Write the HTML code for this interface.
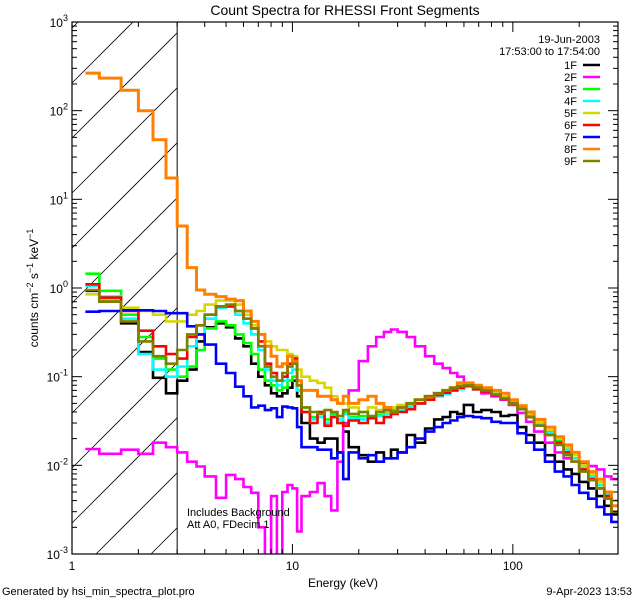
<!DOCTYPE html>
<html><head><meta charset="utf-8"><style>
html,body{margin:0;padding:0;background:#fff;width:640px;height:600px;overflow:hidden}
svg{display:block}
svg text{font-family:"Liberation Sans",sans-serif;fill:#000}
</style></head><body>
<svg id="chart" width="640" height="600" xmlns="http://www.w3.org/2000/svg">
<rect width="640" height="600" fill="#fff"/>
<text x="345" y="15" font-size="14" text-anchor="middle">Count Spectra for RHESSI Front Segments</text>
<g id="plot"></g>
<text transform="translate(38,288) rotate(-90)" font-size="12" text-anchor="middle">counts cm<tspan dy="-5" font-size="9">−2</tspan><tspan dy="5"> s</tspan><tspan dy="-5" font-size="9">−1</tspan><tspan dy="5"> keV</tspan><tspan dy="-5" font-size="9">−1</tspan></text>
<text x="343" y="587" font-size="12" text-anchor="middle">Energy (keV)</text>
<text x="2" y="595" font-size="11">Generated by hsi_min_spectra_plot.pro</text>
<text x="632" y="595" font-size="11" text-anchor="end">9-Apr-2023 13:53</text>
<text x="187" y="516" font-size="11">Includes Background</text>
<text x="187" y="528" font-size="11">Att A0, FDecim 1</text>
<text x="600" y="43" font-size="11" text-anchor="end">19-Jun-2003</text>
<text x="600" y="55" font-size="11" text-anchor="end">17:53:00 to 17:54:00</text>
</svg>
<script>
const edges=[1.15,1.33,1.67,2,2.33,2.67,3,3.33,3.67,4,4.5,5,5.5,6,6.5,7,7.5,8,8.5,9,9.5,10,10.5,11,12,13,14,15,16,17,18,20,22,24,26,28,30,33,36,40,44,48,52,56,60,66,72,80,88,96,105,115,125,140,155,170,185,200,220,240,260,280,300];
const seriesNames=["1F","2F","3F","4F","5F","6F","7F","8F","9F"];
const seriesColors=["#000000","#ff00ff","#00ff00","#00ffff","#d7d700","#ff0000","#0000ff","#ff8000","#808000"];
const s1=[0.93,0.73,0.4,0.19,0.097,0.065,0.09,0.12,0.25,0.36,0.4,0.36,0.27,0.22,0.14,0.1,0.08,0.065,0.06,0.065,0.075,0.09,0.06,0.03,0.02,0.018,0.02,0.02,0.014,0.024,0.016,0.013,0.011,0.014,0.012,0.015,0.014,0.022,0.018,0.026,0.033,0.035,0.04,0.038,0.048,0.04,0.042,0.04,0.036,0.037,0.027,0.022,0.018,0.013,0.011,0.009,0.008,0.0065,0.0055,0.0045,0.0035,0.0028];
const s2=[0.0153,0.0135,0.015,0.0135,0.018,0.016,0.014,0.011,0.0097,0.0075,0.0043,0.0078,0.007,0.0057,0.0049,0.002,0.0007,0.0045,0.0006,0.005,0.006,0.0055,0.0018,0.0045,0.005,0.0063,0.0045,0.0031,0.011,0.03,0.07,0.15,0.22,0.28,0.32,0.34,0.32,0.28,0.22,0.17,0.14,0.125,0.11,0.1,0.085,0.075,0.065,0.06,0.055,0.048,0.039,0.031,0.024,0.018,0.014,0.012,0.011,0.0105,0.0098,0.009,0.0075,0.007];
const s3=[1.45,0.93,0.5,0.28,0.16,0.12,0.1,0.13,0.2,0.35,0.42,0.38,0.3,0.24,0.18,0.12,0.09,0.08,0.07,0.075,0.09,0.1,0.07,0.045,0.035,0.04,0.033,0.038,0.03,0.04,0.035,0.036,0.034,0.037,0.04,0.042,0.045,0.048,0.05,0.055,0.06,0.065,0.07,0.075,0.08,0.078,0.072,0.065,0.058,0.052,0.045,0.036,0.03,0.024,0.019,0.015,0.012,0.0095,0.0075,0.006,0.0048,0.0035];
const s4=[1.05,0.8,0.45,0.18,0.12,0.1,0.13,0.22,0.3,0.45,0.6,0.62,0.5,0.4,0.3,0.2,0.12,0.09,0.08,0.09,0.11,0.12,0.07,0.04,0.033,0.035,0.03,0.036,0.033,0.038,0.034,0.033,0.035,0.036,0.038,0.04,0.042,0.046,0.05,0.055,0.06,0.064,0.07,0.072,0.078,0.075,0.07,0.064,0.058,0.05,0.043,0.035,0.029,0.023,0.018,0.015,0.012,0.0095,0.0075,0.006,0.0048,0.0035];
const s5=[0.85,0.75,0.6,0.55,0.5,0.42,0.42,0.5,0.55,0.65,0.72,0.72,0.65,0.5,0.38,0.3,0.25,0.22,0.2,0.2,0.18,0.17,0.12,0.1,0.09,0.085,0.075,0.06,0.05,0.05,0.045,0.04,0.045,0.042,0.04,0.045,0.048,0.05,0.055,0.058,0.062,0.068,0.075,0.08,0.085,0.08,0.075,0.068,0.06,0.054,0.047,0.038,0.031,0.025,0.02,0.016,0.013,0.01,0.008,0.0065,0.005,0.004];
const s6=[1.1,0.78,0.55,0.33,0.22,0.18,0.16,0.28,0.38,0.5,0.62,0.62,0.55,0.45,0.35,0.25,0.14,0.11,0.09,0.1,0.14,0.16,0.08,0.04,0.03,0.04,0.028,0.035,0.03,0.028,0.032,0.03,0.034,0.03,0.035,0.038,0.04,0.043,0.05,0.055,0.062,0.066,0.07,0.075,0.078,0.072,0.068,0.062,0.056,0.05,0.043,0.035,0.028,0.022,0.018,0.014,0.011,0.009,0.007,0.0055,0.0045,0.003];
const s7=[0.54,0.55,0.56,0.56,0.55,0.52,0.52,0.37,0.3,0.23,0.14,0.11,0.077,0.06,0.045,0.047,0.042,0.044,0.035,0.046,0.045,0.044,0.027,0.016,0.016,0.015,0.015,0.012,0.014,0.007,0.014,0.012,0.013,0.011,0.012,0.012,0.014,0.016,0.02,0.024,0.027,0.03,0.032,0.035,0.036,0.035,0.034,0.031,0.03,0.03,0.023,0.018,0.015,0.011,0.0085,0.0075,0.006,0.0049,0.0042,0.0034,0.0028,0.0023];
const s8=[265,233,170,100,47,17.4,5,1.7,0.95,0.85,0.8,0.75,0.72,0.55,0.42,0.3,0.22,0.17,0.13,0.14,0.17,0.15,0.09,0.07,0.07,0.06,0.06,0.055,0.05,0.06,0.05,0.055,0.06,0.05,0.045,0.04,0.045,0.05,0.055,0.06,0.065,0.07,0.075,0.085,0.085,0.08,0.075,0.07,0.065,0.055,0.047,0.04,0.033,0.027,0.021,0.017,0.014,0.011,0.0085,0.007,0.005,0.0035];
const s9=[0.95,0.7,0.42,0.25,0.17,0.14,0.2,0.3,0.38,0.5,0.62,0.65,0.55,0.45,0.35,0.22,0.13,0.1,0.09,0.11,0.13,0.14,0.08,0.045,0.04,0.038,0.042,0.04,0.036,0.042,0.038,0.04,0.036,0.04,0.042,0.04,0.045,0.05,0.055,0.06,0.065,0.07,0.075,0.078,0.08,0.075,0.07,0.063,0.057,0.05,0.043,0.035,0.028,0.022,0.017,0.013,0.011,0.0085,0.0068,0.0055,0.0042,0.003];
const allSeries=[s1,s2,s3,s4,s5,s6,s7,s8,s9];
const yDecades=[-3,-2,-1,0,1,2,3];
const xMajor=[1,10,100];
const xMajorLabels=["1","10","100"];
const thresholdEnergy=3;

const L=72,R=618,T=22,B=554,XMIN=1,XMAX=300,YMIN=-3,YMAX=3;
const NS="http://www.w3.org/2000/svg";
function xs(e){return L+(Math.log10(e)-Math.log10(XMIN))/(Math.log10(XMAX)-Math.log10(XMIN))*(R-L);}
function ys(v){return B-(Math.log10(v)-YMIN)/(YMAX-YMIN)*(B-T);}
function mk(tag,attrs,parent){const el=document.createElementNS(NS,tag);for(const k in attrs)el.setAttribute(k,attrs[k]);parent.appendChild(el);return el;}
const plot=document.getElementById('plot');
const defs=mk('defs',{},plot);
const cp=mk('clipPath',{id:'clip'},defs);
mk('rect',{x:L,y:T,width:R-L,height:B-T},cp);

const xt=xs(thresholdEnergy);
const hatch=mk('g',{},plot);


// lines y = c - (x - L), clipped to [L,xt] x [T,B]
for(let c=T+6;c<B+(xt-L);c+=55){
  let xa=L,ya=c;
  if(ya>B){xa=L+(ya-B);ya=B;}
  let xb=xt,yb=c-(xt-L);
  if(yb<T){xb=L+(c-T);yb=T;}
  if(xa>=xb)continue;
  mk('line',{x1:xa,y1:ya,x2:xb,y2:yb,stroke:'#000','stroke-width':0.8},hatch);
}
const thr=mk('line',{x1:xt,y1:T,x2:xt,y2:B,stroke:'#000','stroke-width':1},plot);



const sg=mk('g',{'clip-path':'url(#clip)'},plot);
allSeries.forEach((vals,si)=>{
  let d='';
  for(let i=0;i<vals.length;i++){
    const y=Math.min(B+4,ys(vals[i])).toFixed(1);
    const x1=xs(edges[i]).toFixed(1),x2=xs(edges[i+1]).toFixed(1);
    d+=(i===0?'M':'L')+x1+','+y+'L'+x2+','+y;
  }
  const p=mk('path',{d:d,fill:'none',stroke:seriesColors[si],'stroke-width':si===7?3:2.6,'stroke-linejoin':'miter'},sg);
  
  
});

const frame=mk('rect',{x:L,y:T,width:R-L,height:B-T,fill:'none',stroke:'#000','stroke-width':1.2},plot);



const yax=mk('g',{},plot);


yDecades.forEach(p=>{
  const y=ys(Math.pow(10,p));
  mk('line',{x1:L,y1:y,x2:L+10,y2:y,stroke:'#000'},yax);
  mk('line',{x1:R,y1:y,x2:R-10,y2:y,stroke:'#000'},yax);
  const t=mk('text',{x:L-4,y:y+5,'font-size':12,'text-anchor':'end'},yax);
  t.innerHTML='10<tspan dy="-6" font-size="9">'+p+'</tspan>';
  
  
  if(p<YMAX){for(let m=2;m<10;m++){const ym=ys(m*Math.pow(10,p));
    mk('line',{x1:L,y1:ym,x2:L+5,y2:ym,stroke:'#000'},yax);
    mk('line',{x1:R,y1:ym,x2:R-5,y2:ym,stroke:'#000'},yax);}}
});
const xax=mk('g',{},plot);


xMajor.forEach((e,i)=>{
  const x=xs(e);
  mk('line',{x1:x,y1:B,x2:x,y2:B-10,stroke:'#000'},xax);
  mk('line',{x1:x,y1:T,x2:x,y2:T+10,stroke:'#000'},xax);
  const t=mk('text',{x:x,y:B+16,'font-size':12,'text-anchor':'middle'},xax);
  t.textContent=xMajorLabels[i];
  
  
  for(let m=2;m<10;m++){const ev=m*e;if(ev>XMAX)break;const xm=xs(ev);
    mk('line',{x1:xm,y1:B,x2:xm,y2:B-5,stroke:'#000'},xax);
    mk('line',{x1:xm,y1:T,x2:xm,y2:T+5,stroke:'#000'},xax);}
});
const lg=mk('g',{},plot);


seriesNames.forEach((n,i)=>{
  const y=69+i*12;
  const t=mk('text',{x:577,y:y,'font-size':11,'text-anchor':'end'},lg);
  t.textContent=n;
  
  
  const l=mk('line',{x1:583,y1:y-4,x2:600,y2:y-4,stroke:seriesColors[i],'stroke-width':2.5},lg);
  
  
});
</script>
</body></html>
